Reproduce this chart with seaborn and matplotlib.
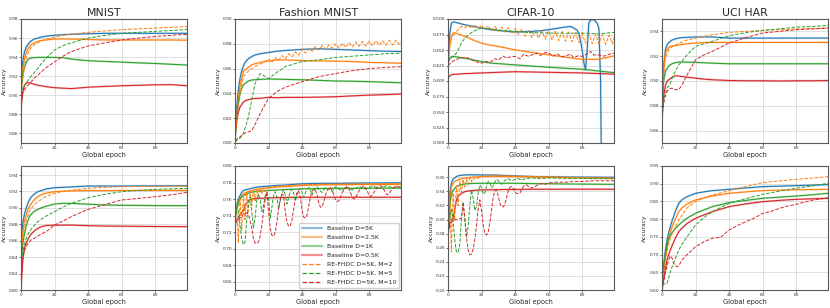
import matplotlib
matplotlib.use("Agg")
import matplotlib.pyplot as plt
import seaborn as sns
from matplotlib.lines import Line2D

# ---------------- data ----------------
EP = [0, 1, 2, 3, 4, 5, 6, 8, 10, 12, 15, 20, 25, 30, 40, 50, 60, 70, 80, 90, 99]

LABELS = ["Baseline D=5K", "Baseline D=2.5K", "Baseline D=1K", "Baseline D=0.5K",
          "RE-FHDC D=5K, M=2", "RE-FHDC D=5K, M=5", "RE-FHDC D=5K, M=10"]
TITLES = ["MNIST", "Fashion MNIST", "CIFAR-10", "UCI HAR"]

# --- row 1: MNIST ---
mn1_b5k = [0.912, 0.935, 0.945, 0.950, 0.953, 0.955, 0.957, 0.959, 0.960, 0.961, 0.962, 0.963, 0.9635, 0.964, 0.9645, 0.965, 0.965, 0.965, 0.965, 0.965, 0.965]
mn1_b2k5 = [0.905, 0.928, 0.938, 0.944, 0.948, 0.951, 0.953, 0.955, 0.9565, 0.9575, 0.958, 0.959, 0.959, 0.959, 0.9585, 0.958, 0.958, 0.958, 0.958, 0.958, 0.9578]
mn1_b1k = [0.905, 0.920, 0.929, 0.934, 0.937, 0.9385, 0.939, 0.9395, 0.9398, 0.9398, 0.9398, 0.9397, 0.9395, 0.938, 0.9363, 0.9355, 0.9348, 0.934, 0.9334, 0.9325, 0.9317]
mn1_b05k = [0.886, 0.903, 0.910, 0.9128, 0.9133, 0.913, 0.9125, 0.9115, 0.9105, 0.910, 0.909, 0.908, 0.9075, 0.907, 0.9085, 0.9093, 0.910, 0.9105, 0.911, 0.9112, 0.910]
mn1_m2 = [0.900, 0.918, 0.930, 0.938, 0.943, 0.947, 0.950, 0.953, 0.955, 0.957, 0.959, 0.961, 0.963, 0.964, 0.966, 0.9675, 0.9687, 0.9697, 0.9705, 0.9713, 0.972]
mn1_m5 = [0.905, 0.908, 0.910, 0.912, 0.915, 0.918, 0.920, 0.924, 0.928, 0.933, 0.939, 0.9475, 0.952, 0.955, 0.960, 0.9628, 0.965, 0.966, 0.967, 0.968, 0.969]
mn1_m10 = [0.895, 0.902, 0.906, 0.908, 0.910, 0.912, 0.914, 0.918, 0.921, 0.9245, 0.929, 0.935, 0.941, 0.9458, 0.9518, 0.955, 0.958, 0.960, 0.9617, 0.963, 0.9638]

# --- row 1: Fashion MNIST ---
fm1_b5k = [0.805, 0.828, 0.843, 0.852, 0.858, 0.862, 0.865, 0.868, 0.8697, 0.871, 0.872, 0.873, 0.874, 0.8746, 0.8755, 0.876, 0.8755, 0.875, 0.8745, 0.874, 0.8738]
fm1_b2k5 = [0.803, 0.822, 0.836, 0.846, 0.852, 0.8576, 0.859, 0.861, 0.863, 0.864, 0.865, 0.8662, 0.867, 0.867, 0.8665, 0.8662, 0.866, 0.8657, 0.865, 0.8647, 0.8643]
fm1_b1k = [0.803, 0.820, 0.832, 0.840, 0.844, 0.8468, 0.848, 0.850, 0.8508, 0.851, 0.8513, 0.8516, 0.8515, 0.8513, 0.851, 0.8505, 0.850, 0.8498, 0.8495, 0.849, 0.8486]
fm1_b05k = [0.808, 0.818, 0.825, 0.829, 0.831, 0.833, 0.834, 0.835, 0.8355, 0.836, 0.836, 0.8368, 0.8365, 0.8368, 0.8368, 0.837, 0.8373, 0.838, 0.8386, 0.839, 0.8395]
fm1_m2_x = [0, 1, 2, 3, 4, 5, 6, 8, 10, 12, 14, 16, 18, 20, 22, 24, 26, 28, 30, 32, 34, 36, 38, 40, 42, 44, 46, 48, 50,
            52, 54, 56, 58, 60, 62, 64, 66, 68, 70, 72, 74, 76, 78, 80, 82, 84, 86, 88, 90, 92, 94, 96, 98, 99]
fm1_m2 = [0.804, 0.818, 0.830, 0.840, 0.847, 0.8535, 0.855, 0.858, 0.860, 0.8615, 0.8635, 0.864, 0.866, 0.8675, 0.8650, 0.8690, 0.8665, 0.8705, 0.8680, 0.8720, 0.8695, 0.8735, 0.8710, 0.8755, 0.8725, 0.8765, 0.8740, 0.8778, 0.8750,
          0.8785, 0.8755, 0.8790, 0.8765, 0.8800, 0.8765, 0.8805, 0.8770, 0.8810, 0.8775, 0.8815, 0.8780, 0.8818, 0.8782, 0.8820, 0.8785, 0.8825, 0.8788, 0.8825, 0.8790, 0.8828, 0.8790, 0.8830, 0.8795, 0.8815]
fm1_m5 = [0.801, 0.802, 0.803, 0.804, 0.806, 0.8076, 0.812, 0.821, 0.835, 0.848, 0.856, 0.852, 0.857, 0.8616, 0.8657, 0.867, 0.869, 0.870, 0.871, 0.872, 0.8724]
fm1_m10 = [0.802, 0.803, 0.804, 0.805, 0.806, 0.8076, 0.808, 0.809, 0.810, 0.815, 0.8238, 0.836, 0.8414, 0.845, 0.8495, 0.8535, 0.856, 0.8584, 0.860, 0.861, 0.8616]

# --- row 1: CIFAR-10 ---
cf1_b5k_x = [0, 1, 2, 3, 4, 6, 8, 10, 15, 20, 25, 30, 35, 40, 45, 50, 55, 60, 65, 70, 73, 75, 77, 78, 79, 80, 81, 82, 83, 84, 85, 86, 87, 88, 89, 90, 91, 92, 99]
cf1_b5k = [0.430, 0.475, 0.4935, 0.495, 0.495, 0.4935, 0.492, 0.4908, 0.488, 0.4854, 0.483, 0.4816, 0.480, 0.479, 0.4795, 0.480, 0.481, 0.4827, 0.485, 0.487, 0.488, 0.4854, 0.482, 0.477, 0.465, 0.450, 0.430, 0.418, 0.450, 0.4935, 0.498, 0.499, 0.4985, 0.496, 0.493, 0.485, 0.40, 0.12, 0.10]
cf1_b2k5 = [0.420, 0.455, 0.470, 0.4773, 0.4775, 0.477, 0.476, 0.474, 0.4719, 0.470, 0.466, 0.461, 0.458, 0.4557, 0.4503, 0.446, 0.4422, 0.4384, 0.435, 0.435, 0.4405]
cf1_b1k = [0.430, 0.436, 0.439, 0.4395, 0.4395, 0.439, 0.4385, 0.4375, 0.4368, 0.436, 0.434, 0.4313, 0.429, 0.428, 0.426, 0.424, 0.4222, 0.4205, 0.419, 0.416, 0.4135]
cf1_b05k = [0.405, 0.408, 0.410, 0.4105, 0.411, 0.411, 0.4112, 0.4115, 0.412, 0.412, 0.4125, 0.413, 0.4135, 0.414, 0.415, 0.4145, 0.414, 0.4135, 0.413, 0.412, 0.411]
cf1_m2_x = [0, 2, 4, 6, 8, 10, 12, 14, 16, 18, 20, 22, 24, 26, 28, 30, 32, 34, 36, 38, 40, 42, 44, 46, 48, 50,
            52, 54, 56, 58, 60, 62, 64, 66, 68, 70, 72, 74, 76, 78, 80, 82, 84, 86, 88, 90, 92, 94, 96, 98, 99]
cf1_m2 = [0.450, 0.470, 0.477, 0.483, 0.488, 0.486, 0.490, 0.485, 0.491, 0.484, 0.490, 0.483, 0.489, 0.481, 0.488, 0.480, 0.487, 0.479, 0.486, 0.476, 0.485, 0.475, 0.484, 0.472, 0.483, 0.470,
          0.482, 0.469, 0.481, 0.468, 0.481, 0.466, 0.480, 0.465, 0.480, 0.464, 0.479, 0.463, 0.478, 0.462, 0.477, 0.461, 0.477, 0.460, 0.476, 0.460, 0.475, 0.459, 0.474, 0.460, 0.470]
cf1_m5 = [0.430, 0.435, 0.438, 0.440, 0.442, 0.445, 0.450, 0.461, 0.469, 0.474, 0.480, 0.4854, 0.484, 0.482, 0.480, 0.478, 0.4773, 0.477, 0.4773, 0.476, 0.4784]
cf1_m10_x = [0, 3, 5, 8, 10, 12, 15, 18, 20, 22, 25, 28, 30, 33, 35, 38, 40, 43, 45, 48, 50, 53, 55, 58, 60, 63, 65, 68, 70, 73, 75, 78, 80, 83, 85, 87, 90, 93, 96, 99]
cf1_m10 = [0.425, 0.432, 0.435, 0.437, 0.4384, 0.437, 0.433, 0.430, 0.4286, 0.432, 0.430, 0.436, 0.434, 0.440, 0.437, 0.4395, 0.4395, 0.436, 0.443, 0.440, 0.442, 0.445, 0.441, 0.446, 0.445, 0.440, 0.444, 0.439, 0.4405, 0.443, 0.438, 0.441, 0.4395, 0.444, 0.4476, 0.442, 0.442, 0.440, 0.443, 0.445]

# --- row 1: UCI HAR ---
uh1_b5k = [0.880, 0.912, 0.925, 0.929, 0.931, 0.932, 0.933, 0.934, 0.9346, 0.935, 0.9352, 0.9355, 0.9355, 0.9355, 0.9346, 0.9346, 0.9346, 0.9346, 0.9346, 0.9346, 0.9346]
uh1_b2k5 = [0.880, 0.910, 0.9225, 0.925, 0.927, 0.928, 0.9283, 0.9287, 0.929, 0.9295, 0.930, 0.9306, 0.931, 0.9311, 0.9311, 0.9311, 0.9311, 0.9311, 0.9311, 0.9311, 0.9311]
uh1_b1k = [0.880, 0.900, 0.9077, 0.910, 0.912, 0.913, 0.914, 0.9148, 0.9153, 0.9153, 0.9152, 0.915, 0.9147, 0.9144, 0.9139, 0.9139, 0.9139, 0.9139, 0.9139, 0.9139, 0.9139]
uh1_b05k = [0.870, 0.888, 0.896, 0.8996, 0.901, 0.902, 0.903, 0.9042, 0.904, 0.9035, 0.9031, 0.9023, 0.9015, 0.901, 0.9004, 0.9002, 0.9002, 0.900, 0.9002, 0.9002, 0.9004]
uh1_m2 = [0.878, 0.905, 0.9185, 0.922, 0.925, 0.9266, 0.9275, 0.929, 0.9306, 0.9315, 0.933, 0.9346, 0.936, 0.9373, 0.9392, 0.940, 0.9408, 0.9414, 0.9419, 0.9423, 0.9427]
uh1_m5 = [0.878, 0.885, 0.890, 0.8942, 0.896, 0.8983, 0.902, 0.908, 0.913, 0.916, 0.9212, 0.9279, 0.930, 0.932, 0.9365, 0.939, 0.9408, 0.942, 0.9435, 0.944, 0.9449]
uh1_m10 = [0.870, 0.882, 0.888, 0.8915, 0.893, 0.894, 0.8942, 0.893, 0.893, 0.897, 0.905, 0.9171, 0.921, 0.9239, 0.9306, 0.935, 0.9387, 0.940, 0.9414, 0.942, 0.9427]

# --- row 2: MNIST ---
mn2_b5k = [0.860, 0.880, 0.892, 0.899, 0.905, 0.9096, 0.913, 0.917, 0.9197, 0.921, 0.923, 0.9246, 0.925, 0.9255, 0.9266, 0.9266, 0.9266, 0.9267, 0.9268, 0.9269, 0.927]
mn2_b2k5 = [0.850, 0.870, 0.883, 0.891, 0.897, 0.9014, 0.905, 0.910, 0.9136, 0.916, 0.918, 0.9197, 0.9203, 0.9207, 0.921, 0.921, 0.9212, 0.9212, 0.9213, 0.9213, 0.9213]
mn2_b1k = [0.830, 0.855, 0.868, 0.877, 0.884, 0.8893, 0.892, 0.896, 0.8982, 0.900, 0.902, 0.9047, 0.9055, 0.9055, 0.9045, 0.9035, 0.9032, 0.903, 0.9028, 0.9027, 0.9027]
mn2_b05k = [0.800, 0.835, 0.850, 0.8568, 0.861, 0.865, 0.868, 0.872, 0.875, 0.877, 0.8785, 0.879, 0.879, 0.879, 0.8783, 0.8779, 0.8777, 0.8775, 0.8773, 0.8772, 0.8771]
mn2_m2 = [0.845, 0.862, 0.875, 0.884, 0.890, 0.8954, 0.899, 0.904, 0.9075, 0.910, 0.914, 0.9177, 0.920, 0.9215, 0.9238, 0.925, 0.9258, 0.926, 0.9263, 0.9265, 0.9266]
mn2_m5 = [0.830, 0.845, 0.855, 0.862, 0.867, 0.871, 0.874, 0.879, 0.8832, 0.886, 0.890, 0.8954, 0.901, 0.9055, 0.9124, 0.9165, 0.9197, 0.9213, 0.9225, 0.9232, 0.9238]
mn2_m10 = [0.810, 0.838, 0.848, 0.8527, 0.856, 0.8588, 0.861, 0.863, 0.8657, 0.868, 0.871, 0.879, 0.884, 0.8893, 0.8982, 0.904, 0.9096, 0.9115, 0.9136, 0.916, 0.9189]

# --- row 2: Fashion MNIST ---
fm2_b5k = [0.740, 0.752, 0.760, 0.7643, 0.768, 0.7704, 0.771, 0.772, 0.7732, 0.774, 0.775, 0.7756, 0.7765, 0.777, 0.7785, 0.779, 0.779, 0.7793, 0.7795, 0.7796, 0.7797]
fm2_b2k5 = [0.738, 0.750, 0.757, 0.761, 0.764, 0.7663, 0.7675, 0.769, 0.7704, 0.7715, 0.7725, 0.7736, 0.7745, 0.775, 0.7765, 0.777, 0.7773, 0.7775, 0.7776, 0.7777, 0.7777]
fm2_b1k = [0.736, 0.748, 0.755, 0.7602, 0.7625, 0.7643, 0.765, 0.767, 0.7683, 0.769, 0.7697, 0.7704, 0.771, 0.7715, 0.7724, 0.7727, 0.773, 0.773, 0.7731, 0.7732, 0.7732]
fm2_b05k = [0.730, 0.735, 0.738, 0.741, 0.744, 0.746, 0.752, 0.758, 0.7602, 0.7607, 0.761, 0.7614, 0.7617, 0.762, 0.7622, 0.7622, 0.7622, 0.7622, 0.7622, 0.7622, 0.7622]
fm2_m2_x = [0, 1, 2, 3, 4, 5, 6, 7, 8, 9, 10, 11, 12, 13, 14, 15, 16, 17, 18, 20, 25, 30, 40, 50, 60, 80, 99]
fm2_m2 = [0.735, 0.752, 0.707, 0.760, 0.722, 0.765, 0.735, 0.768, 0.745, 0.770, 0.752, 0.771, 0.758, 0.772, 0.763, 0.773, 0.766, 0.774, 0.769, 0.774, 0.7755, 0.776, 0.7772, 0.7778, 0.778, 0.7785, 0.7788]
fm2_m5_x = [0, 1, 2, 3, 4, 5, 6, 7, 8, 9, 10, 11, 12, 13, 14, 15, 16, 17, 18, 19, 20, 21, 22, 23, 24, 25, 26, 27, 28, 29, 30,
            31, 32, 33, 34, 35, 36, 37, 38, 39, 40, 41, 42, 43, 44, 45, 46, 47, 48, 49, 50, 52, 54, 56, 58, 60, 62, 64, 66, 68, 70, 74, 78, 82, 86, 90, 94, 99]
fm2_m5 = [0.735, 0.750, 0.745, 0.728, 0.712, 0.705, 0.708, 0.735, 0.755, 0.762, 0.745, 0.725, 0.738, 0.758, 0.766, 0.760, 0.745, 0.752, 0.764, 0.768, 0.760, 0.737, 0.750, 0.764, 0.769, 0.762, 0.748, 0.758, 0.767, 0.771, 0.765,
          0.754, 0.762, 0.769, 0.772, 0.767, 0.758, 0.765, 0.771, 0.773, 0.768, 0.762, 0.768, 0.772, 0.774, 0.770, 0.765, 0.770, 0.773, 0.775, 0.771, 0.768, 0.774, 0.772, 0.769, 0.775, 0.772, 0.770, 0.775, 0.773, 0.771, 0.775, 0.772, 0.776, 0.773, 0.776, 0.774, 0.775]
fm2_m10_x = [0, 2, 4, 6, 8, 10, 11, 12, 13, 14, 15, 16, 17, 18, 19, 20, 21, 22, 23, 24, 25, 26, 27, 28, 29, 30, 31, 32, 33, 34, 35, 36, 37, 38, 39, 40,
             41, 42, 43, 44, 45, 46, 47, 48, 49, 50, 51, 52, 53, 54, 55, 56, 57, 58, 60, 61, 62, 64, 66, 67, 68, 70, 71, 72, 74, 76, 77, 78, 80, 81, 82, 84, 86, 87, 88, 90, 91, 92, 94, 96, 98, 99]
fm2_m10 = [0.730, 0.735, 0.740, 0.744, 0.742, 0.725, 0.712, 0.707, 0.706, 0.708, 0.715, 0.728, 0.745, 0.760, 0.768, 0.745, 0.725, 0.716, 0.715, 0.720, 0.732, 0.748, 0.760, 0.766, 0.764, 0.745, 0.732, 0.727, 0.728, 0.735, 0.748, 0.760, 0.768, 0.770, 0.762, 0.746,
           0.738, 0.737, 0.741, 0.752, 0.763, 0.770, 0.772, 0.771, 0.765, 0.755, 0.750, 0.751, 0.757, 0.765, 0.771, 0.773, 0.774, 0.770, 0.759, 0.757, 0.758, 0.768, 0.774, 0.775, 0.772, 0.762, 0.760, 0.762, 0.770, 0.775, 0.776, 0.773, 0.765, 0.763, 0.765, 0.772, 0.776, 0.776, 0.774, 0.767, 0.765, 0.767, 0.773, 0.776, 0.774, 0.772]

# --- row 2: CIFAR-10 ---
cf2_b5k = [0.290, 0.335, 0.3515, 0.357, 0.359, 0.361, 0.362, 0.3628, 0.3633, 0.3635, 0.3635, 0.3633, 0.3632, 0.363, 0.3619, 0.3612, 0.3607, 0.3604, 0.3602, 0.3601, 0.360]
cf2_b2k5 = [0.285, 0.325, 0.3467, 0.351, 0.354, 0.3553, 0.3565, 0.358, 0.3586, 0.3595, 0.3603, 0.361, 0.3612, 0.3612, 0.361, 0.3605, 0.360, 0.3595, 0.359, 0.3588, 0.3586]
cf2_b1k = [0.285, 0.318, 0.3373, 0.341, 0.344, 0.3467, 0.348, 0.3495, 0.3505, 0.351, 0.3513, 0.3515, 0.3515, 0.3515, 0.3515, 0.351, 0.3508, 0.3505, 0.3503, 0.3501, 0.350]
cf2_b05k = [0.280, 0.295, 0.300, 0.3018, 0.314, 0.3278, 0.333, 0.337, 0.3396, 0.3405, 0.3412, 0.342, 0.3423, 0.3425, 0.3428, 0.343, 0.343, 0.343, 0.343, 0.343, 0.343]
cf2_m2_x = [0, 1, 2, 3, 4, 5, 6, 7, 8, 9, 10, 11, 12, 13, 14, 15, 16, 18, 20, 25, 30, 40, 50, 60, 70, 80, 90, 99]
cf2_m2 = [0.300, 0.340, 0.254, 0.338, 0.300, 0.348, 0.320, 0.354, 0.338, 0.357, 0.346, 0.358, 0.350, 0.359, 0.354, 0.360, 0.357, 0.359, 0.361, 0.362, 0.3625, 0.3615, 0.361, 0.3605, 0.360, 0.3595, 0.359, 0.3585]
cf2_m5_x = [0, 1, 2, 3, 4, 5, 6, 7, 8, 9, 10, 11, 12, 13, 14, 15, 16, 17, 18, 19, 20, 21, 22, 23, 24, 25, 26, 27, 28, 29, 30, 32, 34, 36, 38, 40, 42, 44, 46, 50, 55, 60, 70, 80, 90, 99]
cf2_m5 = [0.285, 0.300, 0.315, 0.300, 0.272, 0.254, 0.253, 0.265, 0.300, 0.325, 0.300, 0.275, 0.290, 0.320, 0.342, 0.330, 0.313, 0.318, 0.338, 0.349, 0.345, 0.336, 0.338, 0.348, 0.354, 0.352, 0.345, 0.348, 0.354, 0.357, 0.355, 0.350, 0.356, 0.358, 0.355, 0.357, 0.358, 0.356, 0.358, 0.359, 0.358, 0.359, 0.3585, 0.3585, 0.358, 0.358]
cf2_m10_x = [0, 1, 2, 3, 4, 5, 6, 7, 8, 9, 10, 11, 12, 13, 14, 15, 16, 17, 18, 19, 20, 21, 22, 23, 24, 25, 26, 27, 28, 29, 30, 31, 32, 33, 34, 35, 36, 37, 38, 39, 40,
             41, 42, 43, 44, 45, 46, 47, 48, 49, 50, 52, 54, 56, 58, 60, 65, 70, 75, 80, 85, 90, 99]
cf2_m10 = [0.280, 0.290, 0.296, 0.299, 0.300, 0.300, 0.301, 0.301, 0.302, 0.322, 0.305, 0.275, 0.257, 0.250, 0.251, 0.258, 0.272, 0.292, 0.315, 0.328, 0.312, 0.292, 0.280, 0.278, 0.283, 0.296, 0.315, 0.332, 0.341, 0.342, 0.333, 0.323, 0.318, 0.318, 0.322, 0.332, 0.341, 0.346, 0.347, 0.344, 0.339,
           0.337, 0.337, 0.338, 0.343, 0.347, 0.349, 0.349, 0.347, 0.345, 0.345, 0.347, 0.350, 0.351, 0.350, 0.352, 0.353, 0.353, 0.354, 0.354, 0.355, 0.355, 0.355]

# --- row 2: UCI HAR ---
uh2_b5k = [0.620, 0.670, 0.710, 0.741, 0.762, 0.779, 0.795, 0.822, 0.8446, 0.855, 0.8635, 0.8729, 0.877, 0.8804, 0.8841, 0.888, 0.8917, 0.893, 0.8945, 0.896, 0.8973]
uh2_b2k5 = [0.620, 0.660, 0.695, 0.722, 0.745, 0.7647, 0.778, 0.800, 0.8211, 0.832, 0.843, 0.854, 0.860, 0.8653, 0.8729, 0.877, 0.8804, 0.882, 0.883, 0.8835, 0.8841]
uh2_b1k = [0.610, 0.660, 0.700, 0.728, 0.745, 0.7553, 0.762, 0.774, 0.7835, 0.792, 0.803, 0.8164, 0.826, 0.8352, 0.8465, 0.853, 0.8588, 0.862, 0.8653, 0.869, 0.8729]
uh2_b05k = [0.600, 0.630, 0.660, 0.6847, 0.700, 0.713, 0.725, 0.747, 0.7647, 0.775, 0.788, 0.8023, 0.812, 0.8211, 0.8352, 0.843, 0.8493, 0.853, 0.8559, 0.8575, 0.8588]
uh2_m2 = [0.610, 0.650, 0.685, 0.710, 0.730, 0.746, 0.758, 0.779, 0.7976, 0.812, 0.832, 0.8493, 0.860, 0.8682, 0.8804, 0.892, 0.903, 0.908, 0.9124, 0.916, 0.920]
uh2_m5 = [0.620, 0.618, 0.617, 0.6188, 0.635, 0.6518, 0.665, 0.690, 0.713, 0.730, 0.7506, 0.7835, 0.804, 0.8211, 0.8446, 0.858, 0.870, 0.879, 0.887, 0.894, 0.9011]
uh2_m10_x = [0, 2, 4, 5, 6, 7, 8, 9, 10, 12, 15, 20, 25, 30, 35, 40, 45, 50, 55, 60, 65, 70, 75, 80, 85, 90, 95, 99]
uh2_m10 = [0.600, 0.647, 0.685, 0.696, 0.690, 0.675, 0.668, 0.6659, 0.668, 0.685, 0.700, 0.7224, 0.736, 0.7459, 0.749, 0.7694, 0.782, 0.7929, 0.803, 0.8164, 0.822, 0.8305, 0.837, 0.8418, 0.848, 0.854, 0.857, 0.8606]

# axis ranges / ticks per panel
YLIMS = [[(0.85, 0.98), (0.80, 0.90), (0.30, 0.50), (0.85, 0.95)],
         [(0.80, 0.951), (0.65, 0.80), (0.20, 0.376), (0.60, 0.95)]]
YTICKS = [[[0.86, 0.88, 0.90, 0.92, 0.94, 0.96, 0.98], [0.80, 0.82, 0.84, 0.86, 0.88, 0.90],
           [0.300, 0.325, 0.350, 0.375, 0.400, 0.425, 0.450, 0.475, 0.500], [0.86, 0.88, 0.90, 0.92, 0.94]],
          [[0.80, 0.82, 0.84, 0.86, 0.88, 0.90, 0.92, 0.94], [0.66, 0.68, 0.70, 0.72, 0.74, 0.76, 0.78, 0.80],
           [0.20, 0.22, 0.24, 0.26, 0.28, 0.30, 0.32, 0.34, 0.36], [0.60, 0.65, 0.70, 0.75, 0.80, 0.85, 0.90, 0.95]]]
YFMT = [["{:.2f}", "{:.2f}", "{:.3f}", "{:.2f}"], ["{:.2f}"] * 4]

# ---------------- build series ----------------
PANELS = [
    [[(EP, mn1_b5k), (EP, mn1_b2k5), (EP, mn1_b1k), (EP, mn1_b05k), (EP, mn1_m2), (EP, mn1_m5), (EP, mn1_m10)],
     [(EP, fm1_b5k), (EP, fm1_b2k5), (EP, fm1_b1k), (EP, fm1_b05k), (fm1_m2_x, fm1_m2), (EP, fm1_m5), (EP, fm1_m10)],
     [(cf1_b5k_x, cf1_b5k), (EP, cf1_b2k5), (EP, cf1_b1k), (EP, cf1_b05k), (cf1_m2_x, cf1_m2), (EP, cf1_m5), (cf1_m10_x, cf1_m10)],
     [(EP, uh1_b5k), (EP, uh1_b2k5), (EP, uh1_b1k), (EP, uh1_b05k), (EP, uh1_m2), (EP, uh1_m5), (EP, uh1_m10)]],
    [[(EP, mn2_b5k), (EP, mn2_b2k5), (EP, mn2_b1k), (EP, mn2_b05k), (EP, mn2_m2), (EP, mn2_m5), (EP, mn2_m10)],
     [(EP, fm2_b5k), (EP, fm2_b2k5), (EP, fm2_b1k), (EP, fm2_b05k), (fm2_m2_x, fm2_m2), (fm2_m5_x, fm2_m5), (fm2_m10_x, fm2_m10)],
     [(EP, cf2_b5k), (EP, cf2_b2k5), (EP, cf2_b1k), (EP, cf2_b05k), (cf2_m2_x, cf2_m2), (cf2_m5_x, cf2_m5), (cf2_m10_x, cf2_m10)],
     [(EP, uh2_b5k), (EP, uh2_b2k5), (EP, uh2_b1k), (EP, uh2_b05k), (EP, uh2_m2), (EP, uh2_m5), (uh2_m10_x, uh2_m10)]],
]

COLORS = ["#1f77b4", "#ff7f0e", "#2ca02c", "#d62728", "#ff7f0e", "#2ca02c", "#d62728"]

# ---------------- plot ----------------
sns.set_style("whitegrid", {"axes.edgecolor": "0.35", "grid.color": "0.85",
                            "xtick.bottom": True, "ytick.left": True})
plt.rcParams["font.family"] = ["DejaVu Sans"]

fig = plt.figure(figsize=(8.3, 3.08), dpi=100)
W = 166 / 830
H = 124 / 308
lefts = [21 / 830, 235 / 830, 448 / 830, 662 / 830]
bottoms = [1 - 143 / 308, 1 - 290 / 308]

for r in range(2):
    for c in range(4):
        ax = fig.add_axes([lefts[c], bottoms[r], W, H])
        for k, (xs, ys) in enumerate(PANELS[r][c]):
            if k < 4:
                sns.lineplot(x=xs, y=ys, ax=ax, color=COLORS[k], lw=1.6, alpha=0.2, estimator=None)
                sns.lineplot(x=xs, y=ys, ax=ax, color=COLORS[k], lw=0.8, estimator=None)
            else:
                sns.lineplot(x=xs, y=ys, ax=ax, color=COLORS[k], lw=0.7, linestyle="--", estimator=None)
        ax.set_xlim(0, 99)
        ax.set_ylim(*YLIMS[r][c])
        ax.set_xticks([0, 20, 40, 60, 80])
        ax.set_yticks(YTICKS[r][c])
        ax.set_yticklabels([YFMT[r][c].format(v) for v in YTICKS[r][c]])
        ax.tick_params(labelsize=3.2, length=1.2, width=0.5, pad=0.8, colors="0.2")
        for s in ax.spines.values():
            s.set_linewidth(0.8)
        ax.grid(True, lw=0.6)
        ax.set_xlabel("Global epoch", fontsize=4.8, labelpad=1.5)
        ax.set_ylabel("Accuracy", fontsize=4.3, labelpad=1.5)
        if c == 0:
            ax.yaxis.set_label_coords(-0.086, 0.5)
        if r == 0:
            ax.set_title(TITLES[c], fontsize=7.8, pad=2)
        if r == 1 and c == 1:
            handles = []
            for k in range(7):
                if k < 4:
                    handles.append(Line2D([0], [0], color=COLORS[k], lw=1.6, alpha=0.5))
                else:
                    handles.append(Line2D([0], [0], color=COLORS[k], lw=0.9, linestyle="--"))
            ax.legend(handles, LABELS, loc="lower right", fontsize=4.4, frameon=True,
                      handlelength=3.2, borderpad=0.5, labelspacing=0.6, handletextpad=0.8,
                      borderaxespad=0.3, framealpha=0.9)

fig.savefig("out.png", dpi=100)
